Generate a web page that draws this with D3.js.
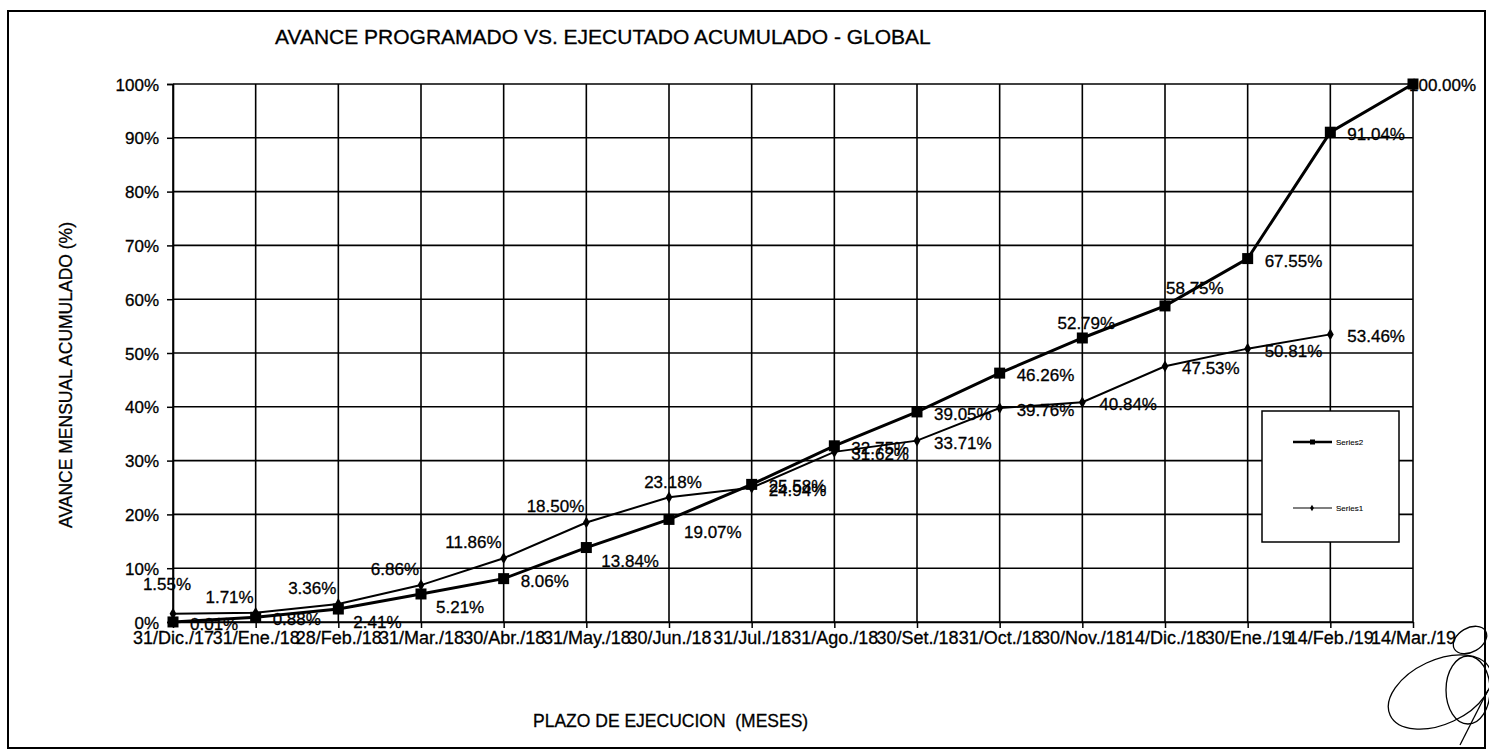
<!DOCTYPE html>
<html>
<head>
<meta charset="utf-8">
<script src="https://cdn.jsdelivr.net/npm/d3@7/dist/d3.min.js"></script>
<style>
  html, body { margin: 0; padding: 0; background: #fff; }
  svg { display: block; }
  text { font-family: "Liberation Sans", Arial, sans-serif; fill: #000; stroke: #000; stroke-width: 0.3px; }
</style>
</head>
<body>
<svg id="chart" width="1489" height="754"></svg>
<script>
// ---------- data ----------
const title = "AVANCE PROGRAMADO VS. EJECUTADO ACUMULADO - GLOBAL";
const xTitle = "PLAZO DE EJECUCION  (MESES)";
const yTitle = "AVANCE MENSUAL ACUMULADO (%)";
const categories = ["31/Dic./17","31/Ene./18","28/Feb./18","31/Mar./18","30/Abr./18","31/May./18","30/Jun./18","31/Jul./18","31/Ago./18","30/Set./18","31/Oct./18","30/Nov./18","14/Dic./18","30/Ene./19","14/Feb./19","14/Mar./19"];
const series2Name = "Series2";
const series2 = [0.01,0.88,2.41,5.21,8.06,13.84,19.07,25.58,32.75,39.05,46.26,52.79,58.75,67.55,91.04,100.00];
const series1Name = "Series1";
const series1 = [1.55,1.71,3.36,6.86,11.86,18.50,23.18,24.94,31.62,33.71,39.76,40.84,47.53,50.81,53.46];
const yTicks = [0,10,20,30,40,50,60,70,80,90,100];
// label placement keywords (like Excel's data-label position)
const series2LabelPos = ["R","R","BR","BR","R","BR","BR","R","R","R","R","A","AR","R","R","C"];
const series1LabelPos = ["AA","AL","AL","AL","AL","AL","A","R","R","R","R","R","R","R","R"];

(function () {
// ---------- layout ----------
const svg = d3.select("#chart");
const pL = 173, pR = 1413, pT = 84, pB = 622;
const x = d3.scalePoint().domain(categories).range([pL, pR]);
const y = d3.scaleLinear().domain([0, 100]).range([pB, pT]);
const fmt = v => d3.format(".2f")(v) + "%";

// outer frame
svg.append("rect").attr("x", 8).attr("y", 11).attr("width", 1477).attr("height", 737)
  .attr("fill", "none").attr("stroke", "#000").attr("stroke-width", 2);

// title
svg.append("text").attr("x", 275).attr("y", 44).attr("font-size", 21).text(title);

// gridlines
const grid = svg.append("g").attr("stroke", "#000").attr("stroke-width", 1.6);
grid.selectAll("line.h").data(yTicks).join("line").attr("class", "h")
  .attr("x1", pL).attr("x2", pR).attr("y1", d => y(d)).attr("y2", d => y(d));
grid.selectAll("line.v").data(categories).join("line").attr("class", "v")
  .attr("x1", d => x(d)).attr("x2", d => x(d)).attr("y1", pT).attr("y2", pB);

// y axis
const yAxis = svg.append("g").attr("transform", `translate(${pL},0)`)
  .call(d3.axisLeft(y).tickValues(yTicks).tickFormat(d => d + "%").tickSize(6).tickPadding(8));
yAxis.select(".domain").attr("stroke-width", 1.6);
yAxis.selectAll(".tick line").attr("stroke-width", 1.5);
yAxis.selectAll(".tick text").attr("font-size", 17).attr("dy", "0.36em")
  .attr("font-family", "Liberation Sans, Arial, sans-serif");

// x axis
const xAxis = svg.append("g").attr("transform", `translate(0,${pB})`)
  .call(d3.axisBottom(x).tickSize(6).tickPadding(0).tickSizeOuter(0));
xAxis.select(".domain").attr("stroke-width", 1.6);
xAxis.selectAll(".tick line").attr("stroke-width", 1.5);
xAxis.selectAll(".tick text").attr("font-size", 18).attr("y", 22).attr("dy", 0)
  .attr("font-family", "Liberation Sans, Arial, sans-serif");

// axis titles
svg.append("text").attr("x", 533).attr("y", 727).attr("font-size", 17.5)
  .style("white-space", "pre").text(xTitle);
svg.append("text").attr("transform", "translate(72,375) rotate(-90)")
  .attr("text-anchor", "middle").attr("font-size", 17.5).text(yTitle);

// series lines
const line = d3.line().x((d, i) => x(categories[i])).y(d => y(d));
svg.append("path").datum(series1).attr("d", line)
  .attr("fill", "none").attr("stroke", "#000").attr("stroke-width", 2);
svg.append("path").datum(series2).attr("d", line)
  .attr("fill", "none").attr("stroke", "#000").attr("stroke-width", 3);

// data labels
function place(pos, px, py) {
  switch (pos) {
    case "R":  return {x: px + 17, y: py + 8, a: "start"};
    case "BR": return {x: px + 15, y: py + 19, a: "start"};
    case "A":  return {x: px + 4, y: py - 9, a: "middle"};
    case "AR": return {x: px + 1, y: py - 12, a: "start"};
    case "AL": return {x: px - 2, y: py - 10, a: "end"};
    case "AA": return {x: px - 6, y: py - 24, a: "middle"};
    case "C":  return {x: px - 4, y: py + 7, a: "start"};
  }
}
function labels(data, posArr) {
  svg.append("g").selectAll("text").data(data).join("text")
    .each(function(d, i) {
      const p = place(posArr[i], x(categories[i]), y(d));
      d3.select(this).attr("x", p.x).attr("y", p.y).attr("text-anchor", p.a);
    })
    .attr("font-size", 17).text(d => fmt(d));
}
labels(series2, series2LabelPos);
labels(series1, series1LabelPos);

// markers
svg.append("g").selectAll("path").data(series1).join("path")
  .attr("d", d3.symbol(d3.symbolDiamond, 40))
  .attr("transform", (d, i) => `translate(${x(categories[i])},${y(d)})`)
  .attr("fill", "#000");
svg.append("g").selectAll("rect").data(series2).join("rect")
  .attr("x", (d, i) => x(categories[i]) - 5.5).attr("y", d => y(d) - 5.5)
  .attr("width", 11).attr("height", 11).attr("fill", "#000");

// legend
const lg = svg.append("g");
lg.append("rect").attr("x", 1262).attr("y", 411).attr("width", 137).attr("height", 131)
  .attr("fill", "#fff").attr("stroke", "#000").attr("stroke-width", 1.5);
const legendItems = [{name: series2Name, w: 2.5, sq: true, yy: 442}, {name: series1Name, w: 1.2, sq: false, yy: 508}];
legendItems.forEach(it => {
  lg.append("line").attr("x1", 1293).attr("x2", 1332).attr("y1", it.yy).attr("y2", it.yy)
    .attr("stroke", "#000").attr("stroke-width", it.w);
  if (it.sq) lg.append("rect").attr("x", 1310).attr("y", it.yy - 2.5).attr("width", 5).attr("height", 5).attr("fill", "#000");
  else lg.append("path").attr("d", d3.symbol(d3.symbolDiamond, 12)).attr("transform", `translate(1312,${it.yy})`).attr("fill", "#000");
  lg.append("text").attr("x", 1336).attr("y", it.yy + 3).attr("font-size", 8).style("stroke-width", "0.1px").text(it.name);
});

// hand-written signature strokes (scan artifact)
const sig = svg.append("g").attr("fill", "none").attr("stroke", "#000").attr("stroke-width", 1.3);
sig.append("ellipse").attr("cx", 1440).attr("cy", 692).attr("rx", 55).attr("ry", 32).attr("transform", "rotate(-25,1440,692)");
sig.append("ellipse").attr("cx", 1470).attr("cy", 640).attr("rx", 18).attr("ry", 12).attr("transform", "rotate(-30,1470,640)");
sig.append("ellipse").attr("cx", 1468).attr("cy", 690).attr("rx", 22).attr("ry", 34);
sig.append("path").attr("d", "M1460,745 L1488,690");
})();
</script>
</body>
</html>
